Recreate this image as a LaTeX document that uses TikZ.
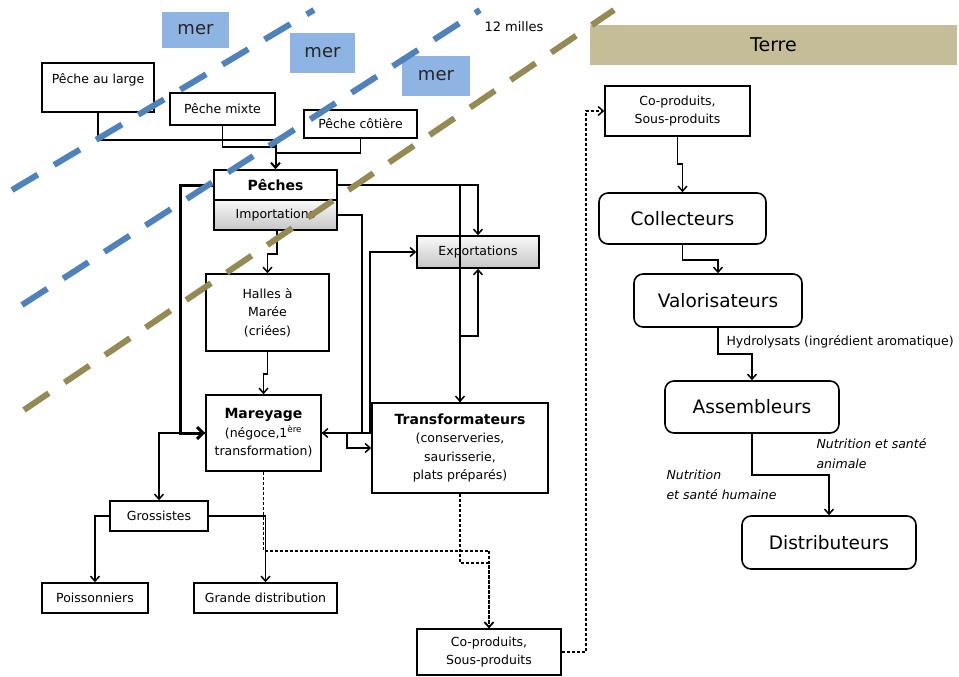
\documentclass[tikz,border=0pt]{standalone}
\usepackage{fontspec}
\setmainfont{DejaVu Sans}
\usetikzlibrary{arrows.meta}
\definecolor{seablue}{RGB}{79,129,189}
\definecolor{merfill}{RGB}{142,180,227}
\definecolor{coasttan}{RGB}{148,138,84}
\definecolor{terrefill}{RGB}{196,189,151}
\tikzset{
    box/.style={ draw=black, line width=1.6pt, fill=white, align=center, inner sep=2pt,
                 font=\fontsize{12.5}{18.5}\selectfont },
    shadebox/.style={ box, top color=gray!5, bottom color=gray!45 },
    bigbox/.style={ box, rounded corners=9pt, font=\fontsize{18.5}{22}\selectfont },
    merlabel/.style={ fill=merfill, text=black!85, font=\fontsize{18}{20}\selectfont },
    wire/.style={ line width=1.5pt },
    link/.style={ wire, -{Straight Barb[length=5pt,width=9pt]} },
    mainlink/.style={ line width=3pt, -{Straight Barb[length=6pt,width=12pt]} },
    bylink/.style={ link, dash pattern=on 3pt off 2pt },
    coast/.style={ line width=6pt, dash pattern=on 30pt off 19pt },
    note/.style={ align=left, font=\itshape\fontsize{12.5}{20}\selectfont }
}

\begin{document}
\begin{tikzpicture}[x=1pt,y=-1pt]
        %\draw[step=50, very thin, gray, dashed] (0,0) grid (959,677);
        \useasboundingbox (0,0) rectangle (959,677);

        \node[merlabel, minimum width=67, minimum height=36] (mer1) at (195.5,30) {mer};
        \node[merlabel, minimum width=65, minimum height=40] (mer2) at (322.5,53) {mer};
        \node[merlabel, minimum width=68, minimum height=40] (mer3) at (436,76) {mer};
        \node[font=\fontsize{13}{15}\selectfont] (milles) at (514,27) {12 milles};
        \node[fill=terrefill, minimum width=367, minimum height=40,
              font=\fontsize{19}{22}\selectfont] (terre) at (773.5,45) {Terre};

        \node[box, minimum width=112, minimum height=49] (large) at (98,87.5) {Pêche au large\\~};
        \node[box, minimum width=105, minimum height=32] (mixte) at (222.5,109) {Pêche mixte};
        \node[box, minimum width=113, minimum height=28] (cotiere) at (360.5,124) {Pêche côtière};
        \node[box, minimum width=123, minimum height=30, font=\bfseries\fontsize{14}{16}\selectfont]
            (peches) at (275.5,185) {Pêches};
        \node[shadebox, minimum width=123, minimum height=30] (import) at (275.5,215) {Importations};
        \node[shadebox, minimum width=122, minimum height=32] (export) at (478,252) {Exportations};
        \node[box, minimum width=123, minimum height=77] (halles) at (267.5,312.5) {Halles à\\Marée\\(criées)};
        \node[box, minimum width=115, minimum height=76] (mareyage) at (263.5,433)
            {{\bfseries\fontsize{14}{18.5}\selectfont Mareyage}\\(négoce,1\textsuperscript{ère}\\transformation)};
        \node[box, minimum width=176, minimum height=90] (transfo) at (460,448)
            {{\bfseries\fontsize{14}{18.5}\selectfont Transformateurs}\\(conserveries,\\saurisserie,\\plats préparés)};
        \node[box, minimum width=98, minimum height=30] (grossistes) at (159,516) {Grossistes};
        \node[box, minimum width=106, minimum height=30] (poisson) at (95,598) {Poissonniers};
        \node[box, minimum width=143, minimum height=30] (grande) at (265.5,598) {Grande distribution};
        \node[box, minimum width=144, minimum height=46] (coprodA) at (489,652) {Co-produits,\\Sous-produits};

        \node[box, minimum width=145, minimum height=50] (coprodB) at (677.5,111) {Co-produits,\\Sous-produits};
        \node[bigbox, minimum width=167, minimum height=51] (collect) at (682.5,218.5) {Collecteurs};
        \node[bigbox, minimum width=168, minimum height=53] (valor) at (718,300.5) {Valorisateurs};
        \node[bigbox, minimum width=174, minimum height=52] (assemb) at (752,407) {Assembleurs};
        \node[bigbox, minimum width=174, minimum height=53] (distrib) at (829,542.5) {Distributeurs};

        \coordinate (mg1) at (275.5,140);
        \coordinate (mg2) at (275.5,147);
        \coordinate (mg3) at (275.5,153);
        \coordinate (trunk) at (180,300);

        \draw[wire] (large.south) |- (mg1);
        \draw[wire] (mixte.south) |- (mg2);
        \draw[wire] (cotiere.south) |- (mg3);
        \draw[link, line width=2pt] (mg1) -- (peches.north);

        \draw[mainlink] (peches.west) -| (trunk) |- (mareyage.west);
        \draw[link] (peches.east) -| (export.north);
        \draw[link] (peches.east) -| (transfo.north);
        \draw[link] (transfo.north) -- ++(0,-66) -| (export.south);
        \draw[link] ([xshift=1.5pt]import.south) -- ++(0,23) -| (halles.north);
        \draw[link] (import.east) -- ++(24,0) |- (mareyage.east);
        \draw[link] (mareyage.east) -- ++(48,0) |- (export.west);
        \draw[link] (mareyage.east) -- ++(25,0) |- (transfo.west);
        \draw[link] (halles.south) -- ++(0,22) -| (mareyage.north);
        \draw[link] (mareyage.west) -| (grossistes.north);
        \draw[link] (grossistes.west) -| (poisson.north);
        \draw[link] (grossistes.east) -| (grande.north);

        \draw[bylink] (mareyage.south) -- ++(0,79) -| (coprodA.north);
        \draw[bylink] (transfo.south) -- ++(0,69) -| (coprodA.north);
        \draw[bylink] (coprodA.east) -- ++(24,0) |- (coprodB.west);

        \draw[link] (coprodB.south) -- ++(0,27) -| (collect.north);
        \draw[link] (collect.south) -- ++(0,15) -| (valor.north);
        \draw[link] (valor.south) -- ++(0,26) -| (assemb.north);
        \draw[link] (assemb.south) -- ++(0,41) -| (distrib.north);

        \node[anchor=west, font=\fontsize{12.5}{15}\selectfont] (hydro) at (723,342)
            {Hydrolysats (ingrédient aromatique)};
        \node[note, anchor=north west] (animale) at (813,435) {Nutrition et santé\\animale};
        \node[note, anchor=north west] (humaine) at (663,466) {Nutrition\\et santé humaine};

        \draw[coast, seablue] (12,190) -- (314,10);
        \draw[coast, seablue] (22,305) -- (480,10);
        \draw[coast, coasttan] (24,410) -- (614,10);
    \end{tikzpicture}
\end{document}
